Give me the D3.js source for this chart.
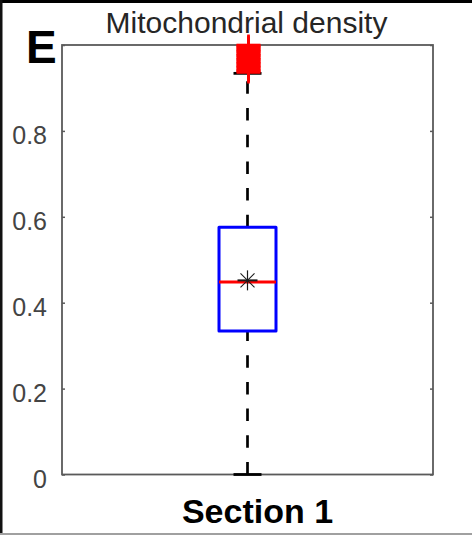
<!DOCTYPE html>
<html>
<head>
<meta charset="utf-8">
<script src="https://cdn.jsdelivr.net/npm/d3@7"></script>
<style>
  body { margin: 0; background: #fff; }
  svg { display: block; font-family: "Liberation Sans", Arial, sans-serif; }
</style>
</head>
<body>
<svg width="472" height="535"></svg>
<script>
// data
const categories = ["Section 1"]
const quartiles = [0.334, 0.448, 0.5755]   // q1, median, q3
const whiskers = [0, 0.934]
const meanValue = 0.452
const outliers = [0.936, 0.939, 0.941, 0.944, 0.948, 0.95, 0.953, 0.957, 0.959, 0.962,
  0.966, 0.968, 0.971, 0.975, 0.977, 0.98, 0.984, 0.986, 0.989, 0.992, 0.995, 0.998, 1.0]
const yTicks = [0, 0.2, 0.4, 0.6, 0.8, 1]
const yTickLabels = ["0", "0.2", "0.4", "0.6", "0.8", ""]   // "1" sits under the panel letter

const svg = d3.select("svg")

const plotLeft = 62, plotRight = 433, plotTop = 45, plotBottom = 474.5

const y = d3.scaleLinear()
  .domain([0, 1])
  .range([plotBottom, plotTop])

const x = d3.scaleBand()
  .domain(categories)
  .range([plotLeft, plotRight])

const boxW = 57
const capW = 27

// frame around the panel
svg.append("rect").attr("x", 0).attr("y", 0).attr("width", 472).attr("height", 3).attr("fill", "#000")
svg.append("rect").attr("x", 0).attr("y", 0).attr("width", 2.5).attr("height", 533).attr("fill", "#111")
svg.append("rect").attr("x", 0).attr("y", 533).attr("width", 472).attr("height", 2).attr("fill", "#a0a0a0")

// axes box
svg.append("rect")
  .attr("x", plotLeft)
  .attr("y", plotTop)
  .attr("width", plotRight - plotLeft)
  .attr("height", plotBottom - plotTop)
  .attr("fill", "none")
  .attr("stroke", "#5a5a5a")
  .attr("stroke-width", 1.8)

const yAxis = svg.append("g")
  .attr("transform", `translate(${plotLeft},0)`)
  .call(d3.axisLeft(y).tickValues(yTicks).tickSize(-3).tickPadding(15)
    .tickFormat((d, i) => yTickLabels[i]))

yAxis.select(".domain").remove()
yAxis.selectAll("line").attr("stroke", "#5a5a5a").attr("stroke-width", 1.5)
yAxis.selectAll("text")
  .filter((d, i) => yTickLabels[i] === "")
  .remove()
yAxis.selectAll("text")
  .attr("dy", "0.52em")
  .attr("fill", "#444")
  .style("font-size", "25px")
  .style("font-family", "'Liberation Sans', Arial, sans-serif")

const yAxisR = svg.append("g")
  .attr("transform", `translate(${plotRight},0)`)
  .call(d3.axisRight(y).tickValues(yTicks).tickSize(-3).tickFormat(""))
yAxisR.select(".domain").remove()
yAxisR.selectAll("text").remove()
yAxisR.selectAll("line").attr("stroke", "#5a5a5a").attr("stroke-width", 1.5)

const groups = svg.selectAll("g.box")
  .data(categories)
  .enter()
  .append("g")
  .attr("class", "box")
  .attr("transform", (d) => `translate(${x(d) + x.bandwidth() / 2},0)`)

// whiskers, drawn upward from the lower value
groups.append("line")
  .attr("x1", 0).attr("x2", 0)
  .attr("y1", y(whiskers[0])).attr("y2", y(quartiles[0]))
  .attr("stroke", "#000").attr("stroke-width", 2.7)
  .attr("stroke-dasharray", "12.5,14.2")

groups.append("line")
  .attr("x1", 0).attr("x2", 0)
  .attr("y1", y(quartiles[2])).attr("y2", y(whiskers[1]))
  .attr("stroke", "#000").attr("stroke-width", 2.7)
  .attr("stroke-dasharray", "12.5,14.2")

groups.selectAll("line.cap")
  .data(whiskers)
  .enter()
  .append("line")
  .attr("class", "cap")
  .attr("x1", -capW / 2 - 0.5).attr("x2", capW / 2 + 0.5)
  .attr("y1", (d) => y(d)).attr("y2", (d) => y(d))
  .attr("stroke", "#000").attr("stroke-width", 2.8)

// box
groups.append("rect")
  .attr("x", -boxW / 2)
  .attr("y", y(quartiles[2]))
  .attr("width", boxW)
  .attr("height", y(quartiles[0]) - y(quartiles[2]))
  .attr("fill", "none")
  .attr("stroke", "#0000ff")
  .attr("stroke-width", 3)
  .attr("stroke-linejoin", "round")

groups.append("line")
  .attr("x1", -boxW / 2).attr("x2", boxW / 2)
  .attr("y1", y(quartiles[1])).attr("y2", y(quartiles[1]))
  .attr("stroke", "#ff0000").attr("stroke-width", 3)

// mean asterisk
const m = groups.append("g")
  .attr("transform", `translate(0,${y(meanValue)})`)
  .attr("stroke", "#1a1a1a")
m.append("line").attr("x1", -10).attr("x2", 10).attr("y1", 0).attr("y2", 0).attr("stroke-width", 2)
m.append("line").attr("x1", 0).attr("x2", 0).attr("y1", -10).attr("y2", 10).attr("stroke-width", 1.2)
m.append("line").attr("x1", -7).attr("x2", 7).attr("y1", -7).attr("y2", 7).attr("stroke-width", 1.1)
m.append("line").attr("x1", -7).attr("x2", 7).attr("y1", 7).attr("y2", -7).attr("stroke-width", 1.1)

// outliers as red plus markers
const o = groups.selectAll("g.outlier")
  .data(outliers)
  .enter()
  .append("g")
  .attr("class", "outlier")
  .attr("transform", (d) => `translate(1,${y(d)})`)
  .attr("stroke", "#ff0000")
  .attr("stroke-width", 2.6)
o.append("line").attr("x1", -12).attr("x2", 12).attr("y1", 0).attr("y2", 0)
o.append("line").attr("x1", 0).attr("x2", 0).attr("y1", -10.5).attr("y2", 11)

// title and labels
svg.append("text")
  .attr("x", 246.5)
  .attr("y", 33)
  .attr("text-anchor", "middle")
  .attr("fill", "#262626")
  .style("font-size", "30px")
  .text("Mitochondrial density")

svg.append("text")
  .attr("x", 26)
  .attr("y", 63)
  .attr("fill", "#000")
  .style("font-size", "46px")
  .style("font-weight", "bold")
  .text("E")

svg.append("text")
  .attr("x", 257.5)
  .attr("y", 523)
  .attr("text-anchor", "middle")
  .attr("fill", "#000")
  .style("font-size", "34px")
  .style("font-weight", "bold")
  .text(categories[0])
</script>
</body>
</html>
